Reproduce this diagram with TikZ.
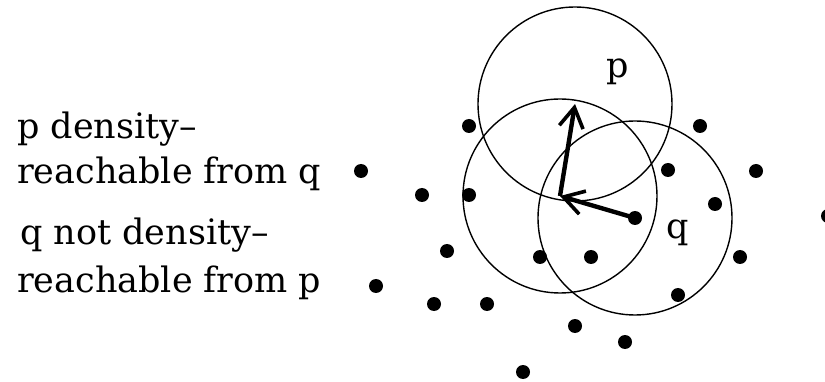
\documentclass[tikz,border=0pt]{standalone}
\usepackage{fontspec}
\setmainfont{DejaVu Serif}
\usetikzlibrary{arrows.meta}
\begin{document}
\begin{tikzpicture}[x=1pt,y=-1pt,
  dot/.style={circle,fill=black,inner sep=0pt,minimum size=14pt},
  txt/.style={anchor=base west,inner sep=0pt,font=\fontsize{35pt}{42pt}\selectfont},
  ring/.style={draw=black,line width=1.4pt},
  reach/.style={line width=4.4pt,-{Straight Barb[length=20pt,width=24pt,line width=3.6pt]}}]
\useasboundingbox (0,0) rectangle (825,382);
% text
\node[txt] (t1) at (17,139) {p density–};
\node[txt] (t2) at (17,184) {reachable from q};
\node[txt] (t3) at (20,245) {q not density–};
\node[txt] (t4) at (17,293) {reachable from p};
% core points
\coordinate (p) at (575,104);
\coordinate (m) at (560,196);
\coordinate (q) at (635,218);
% circles
\draw[ring] (p) circle[radius=97pt];
\draw[ring] (m) circle[radius=97pt];
\draw[ring] (q) circle[radius=97pt];
% arrows
\draw[reach] (q) -- (m);
\draw[reach] (m) -- (p);
\node[dot] (dq) at (q) {};
% labels
\node[txt] (lp) at (606,78) {p};
\node[txt] (lq) at (666,239) {q};
% dots
\node[dot] (d1) at (469,126) {};
\node[dot] (d2) at (700,126) {};
\node[dot] (d3) at (668,170) {};
\node[dot] (d4) at (756,171) {};
\node[dot] (d5) at (422,195) {};
\node[dot] (d6) at (469,195) {};
\node[dot] (d7) at (715,204) {};
\node[dot] (d9) at (447,251) {};
\node[dot] (d10) at (540,257) {};
\node[dot] (d11) at (591,257) {};
\node[dot] (d12) at (740,257) {};
\node[dot] (d13) at (678,295) {};
\node[dot] (d14) at (434,304) {};
\node[dot] (d15) at (487,304) {};
\node[dot] (d16) at (575,326) {};
\node[dot] (d17) at (625,342) {};
\node[dot] (d18) at (523,372) {};
\node[dot] (d19) at (361,171) {};
\node[dot] (d20) at (376,286) {};
\node[dot] (d21) at (828,216) {};
\end{tikzpicture}
\end{document}
